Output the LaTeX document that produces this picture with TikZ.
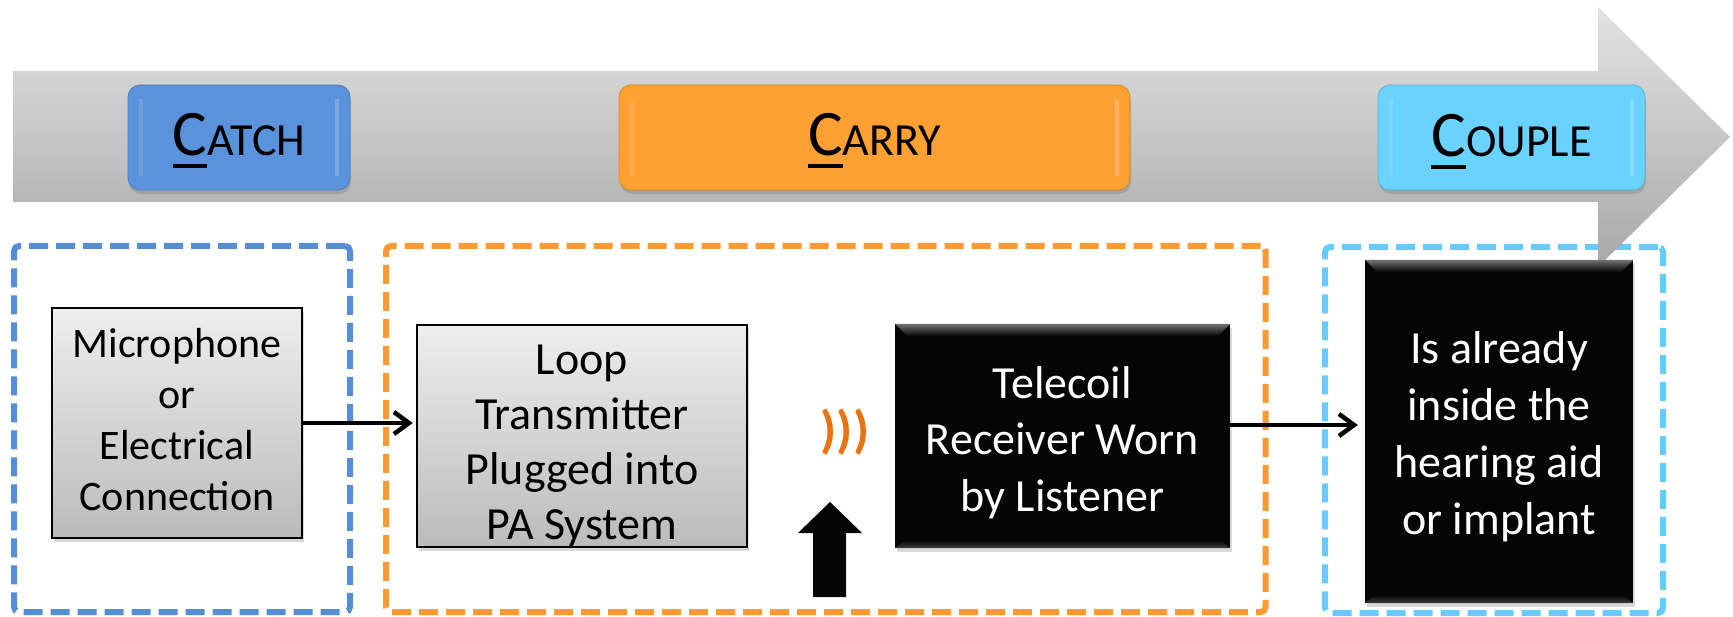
\documentclass[tikz,border=0pt]{standalone}
\usepackage{fontspec}
\setmainfont{Carlito}
\usetikzlibrary{arrows.meta,shadows}
\definecolor{catchC}{HTML}{5A93DB}
\definecolor{catchD}{HTML}{558ED5}
\definecolor{carryC}{HTML}{FFA033}
\definecolor{carryD}{HTML}{FF9933}
\definecolor{coupleC}{HTML}{69D2FF}
\definecolor{coupleD}{HTML}{66CCFF}
\definecolor{waveC}{HTML}{E8740F}
\definecolor{boxTop}{HTML}{EEEEEE}
\definecolor{boxBot}{HTML}{BBBBBB}
\definecolor{barTop}{HTML}{E2E2E2}
\definecolor{barMid}{HTML}{C6C6C6}
\definecolor{barBot}{HTML}{A8A8A8}
\definecolor{boxBlack}{HTML}{050505}
\newcommand\ulchar[1]{\setbox0\hbox{#1}\rlap{\rule[-12.5pt]{\wd0}{4.5pt}}\box0}
\begin{document}
\begin{tikzpicture}[x=1pt,y=-1pt,
  dashframe/.style={draw=#1, line width=6pt, dash pattern=on 19pt off 8pt, rounded corners=5pt, inner sep=0pt, minimum height=366pt},
  tabbox/.style={fill=#1, draw=#1!85!black, line width=0.8pt, rounded corners=12pt, inner sep=0pt, minimum height=105pt, drop shadow={opacity=0.4, shadow xshift=1pt, shadow yshift=-4pt}},
  tablabel/.style={anchor=base, inner sep=0pt, font=\fontsize{46pt}{50pt}\selectfont},
  graybox/.style={draw=black, line width=2.5pt, top color=boxTop, bottom color=boxBot, inner sep=0pt, drop shadow={opacity=0.3, shadow xshift=2pt, shadow yshift=-4pt}},
  blackbox/.style={fill=boxBlack, inner sep=0pt, drop shadow={opacity=0.3, shadow xshift=2pt, shadow yshift=-4pt}},
  boxtext/.style 2 args={align=center, inner sep=0pt, font=\fontsize{#1}{#2}\selectfont},
  conn/.style={line width=4.5pt, line cap=round, line join=round, -{Straight Barb[length=15pt,width=22pt]}},
]
\useasboundingbox (0,0) rectangle (1733,617);

% dashed frames
\node[dashframe=catchD, minimum width=336pt] (catchframe) at (182,429) {};
\node[dashframe=carryD, minimum width=879.5pt] (carryframe) at (825.75,429) {};
\node[dashframe=coupleD, minimum width=338pt] (coupleframe) at (1494,430) {};

% big gray arrow
\path[top color=barTop, bottom color=barBot, middle color=barMid]
  (13,71) -- (1598,71) -- (1598,7) -- (1730,137) -- (1598,267) -- (1598,202) -- (13,202) -- cycle;

% tabs
\node[tabbox=catchC, minimum width=222pt] (catchtab) at (239,137.5) {};
\node[tabbox=carryC, minimum width=511pt] (carrytab) at (874.5,137.5) {};
\node[tabbox=coupleC, minimum width=267pt] (coupletab) at (1511.5,137.5) {};
\foreach \t in {catchtab,carrytab,coupletab}{
  \fill[white,opacity=0.12] ([xshift=11pt,yshift=-14pt]\t.north west) rectangle ([xshift=15pt,yshift=14pt]\t.south west);
  \fill[white,opacity=0.2] ([xshift=-15pt,yshift=-14pt]\t.north east) rectangle ([xshift=-11pt,yshift=14pt]\t.south east);
}
\node[tablabel] (catchlbl) at (239,156) {\ulchar{\fontsize{65pt}{70pt}\selectfont C}ATCH};
\node[tablabel] (carrylbl) at (874.5,156) {\ulchar{\fontsize{65pt}{70pt}\selectfont C}ARRY};
\node[tablabel] (couplelbl) at (1511.5,157) {\ulchar{\fontsize{65pt}{70pt}\selectfont C}OUPLE};

% boxes
\node[graybox, minimum width=250pt, minimum height=230pt] (mic) at (177,423) {};
\node[boxtext={42pt}{51pt}] (mictxt) at (177,419.5) {Microphone\\or\\Electrical\\Connection};
\node[graybox, minimum width=330pt, minimum height=222pt] (loop) at (582,436) {};
\node[boxtext={46pt}{55pt}] (looptxt) at (582,446) {Loop\\Transmitter\\Plugged into\\PA System};
\node[blackbox, minimum width=335pt, minimum height=224pt] (tele) at (1062.5,436) {};
\node[blackbox, minimum width=268pt, minimum height=343pt] (couple) at (1499,431.5) {};
\foreach \b in {tele,couple}{
  \path[top color=black!55, bottom color=boxBlack] (\b.north west) -- (\b.north east) -- ([shift={(-12pt,-12pt)}]\b.north east) -- ([shift={(12pt,-12pt)}]\b.north west) -- cycle;
  \path[top color=boxBlack, bottom color=black!75] ([shift={(10pt,8pt)}]\b.south west) -- ([shift={(-10pt,8pt)}]\b.south east) -- (\b.south east) -- (\b.south west) -- cycle;
}
\node[boxtext={46pt}{56.5pt}, text=white] (teletxt) at (1062.5,442.5) {Telecoil\\Receiver Worn\\by Listener};
\node[boxtext={46pt}{57pt}, text=white] (coupletxt) at (1499,436.5) {Is already\\inside the\\hearing aid\\or implant};

% waves and up arrow
\node[text=waveC, inner sep=0pt, font=\bfseries\fontsize{52pt}{56pt}\selectfont] (waves) at (845,432) {)))};
\fill[boxBlack] (813,597) -- (813,533) -- (798,533) -- (830,502) -- (862,533) -- (846,533) -- (846,597) -- cycle;

% connectors
\draw[conn, shorten >=3pt] (mic.east) -- (mic.east -| loop.west);
\coordinate (a2s) at ([yshift=11pt]tele.east);
\draw[conn, shorten >=7pt] (a2s) -- (a2s -| couple.west);
\end{tikzpicture}
\end{document}
